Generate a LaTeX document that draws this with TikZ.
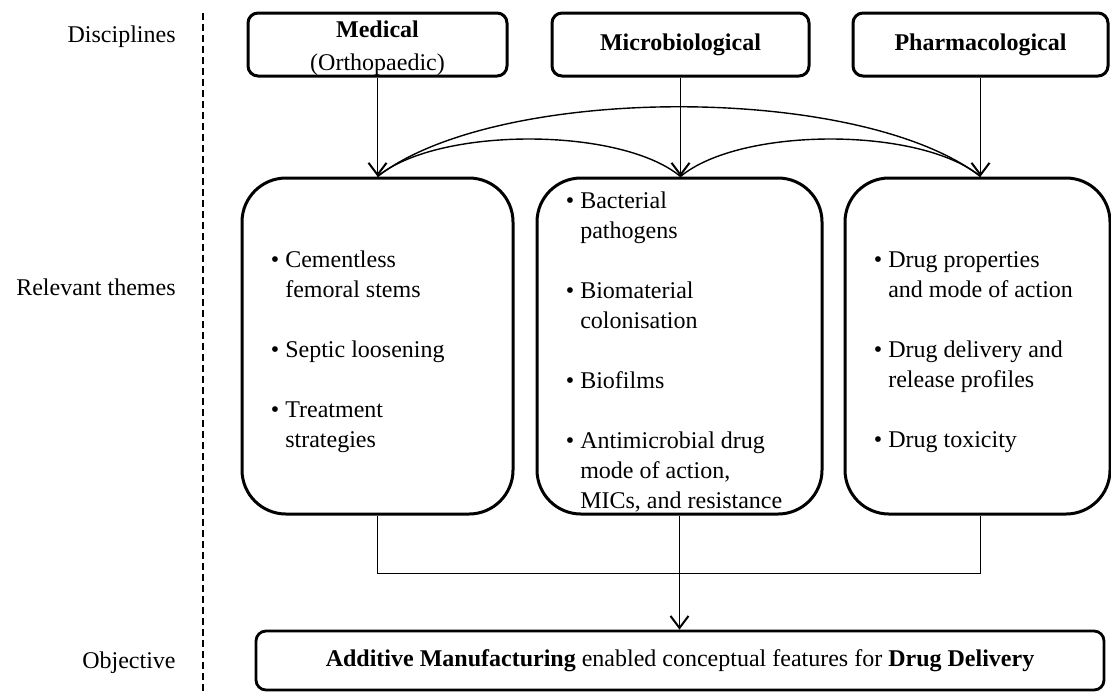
\documentclass[tikz,border=0pt]{standalone}
\usepackage{fontspec}
\setmainfont{Liberation Serif}
\usetikzlibrary{arrows.meta}

\newcommand{\hang}{\hphantom{\textbullet\ }}

\begin{document}
\begin{tikzpicture}[x=0.5pt, y=-0.5pt,
  every node/.style={font=\fontsize{12}{15}\selectfont},
  disc/.style={draw, line width=1.5pt, rounded corners=5pt, inner sep=0pt, align=center, minimum height=31.5pt},
  theme/.style={draw, line width=1.5pt, rounded corners=22pt, inner sep=0pt, minimum height=168pt},
  items/.style={anchor=west, align=left, inner sep=0pt, yshift=-3pt},
  lvl/.style={anchor=east, inner sep=0pt},
  link/.style={line width=0.7pt},
  arr/.style={link, -{Straight Barb[length=6pt, width=9pt, line width=1pt]}}]
  \useasboundingbox (0,0) rectangle (1111,692);

  % level labels and divider
  \node[lvl] (lvldisc) at (176,37) {Disciplines};
  \node[lvl] (lvltheme) at (176,287) {Relevant themes};
  \node[lvl] (lvlobj) at (176,663) {Objective};
  \draw[line width=1pt, dash pattern=on 3.5pt off 2pt] (203,13) -- (203,692);

  % disciplines
  \node[disc, minimum width=129.5pt] (med) at (377.5,44.5) {};
  \node[align=center, inner sep=0pt] (medtxt) at ([yshift=-2pt]med.center)
    {\textbf{Medical}\\[1.5pt](Orthopaedic)};
  \node[disc, minimum width=128.5pt] (mic) at (680.5,44.5) {\textbf{Microbiological}};
  \node[disc, minimum width=127.5pt] (pha) at (980.5,44.5) {\textbf{Pharmacological}};

  % relevant themes
  \node[theme, minimum width=135.5pt] (medth) at (377.5,346) {};
  \node[theme, minimum width=142.5pt] (micth) at (679.5,346) {};
  \node[theme, minimum width=132.5pt] (phath) at (977.5,346) {};

  \node[items] (meditems) at ([xshift=15pt]medth.west) {%
    \textbullet\ Cementless\\\hang femoral stems\\[15pt]
    \textbullet\ Septic loosening\\[15pt]
    \textbullet\ Treatment\\\hang strategies};
  \node[items] (micitems) at ([xshift=15pt]micth.west) {%
    \textbullet\ Bacterial\\\hang pathogens\\[15pt]
    \textbullet\ Biomaterial\\\hang colonisation\\[15pt]
    \textbullet\ Biofilms\\[15pt]
    \textbullet\ Antimicrobial drug\\\hang mode of action,\\\hang MICs, and resistance};
  \node[items] (phaitems) at ([xshift=15pt]phath.west) {%
    \textbullet\ Drug properties\\\hang and mode of action\\[15pt]
    \textbullet\ Drug delivery and\\\hang release profiles\\[15pt]
    \textbullet\ Drug toxicity};

  % objective
  \node[draw, line width=1.4pt, rounded corners=5pt, minimum width=424pt, minimum height=29.5pt] (obj) at (680,660.5)
    {\textbf{Additive Manufacturing} enabled conceptual features for \textbf{Drug Delivery}};

  % links
  \coordinate (tmed) at (med.south |- medth.north);
  \coordinate (tmic) at (mic.south |- micth.north);
  \coordinate (tpha) at (pha.south |- phath.north);
  \draw[arr] (med.south) -- (tmed);
  \draw[arr] (mic.south) -- (tmic);
  \draw[arr] (pha.south) -- (tpha);
  \draw[link] (tmed) .. controls +(60,-50) and +(-60,-50) .. (tmic);
  \draw[link] (tmic) .. controls +(60,-50) and +(-60,-50) .. (tpha);
  \draw[link] (tmed) .. controls +(120,-93) and +(-120,-93) .. (tpha);

  \draw[link] (medth.south) -- ++(0,58) -| (phath.south -| tpha);
  \draw[arr] (micth.south) -- (micth.south |- obj.north);
\end{tikzpicture}
\end{document}
